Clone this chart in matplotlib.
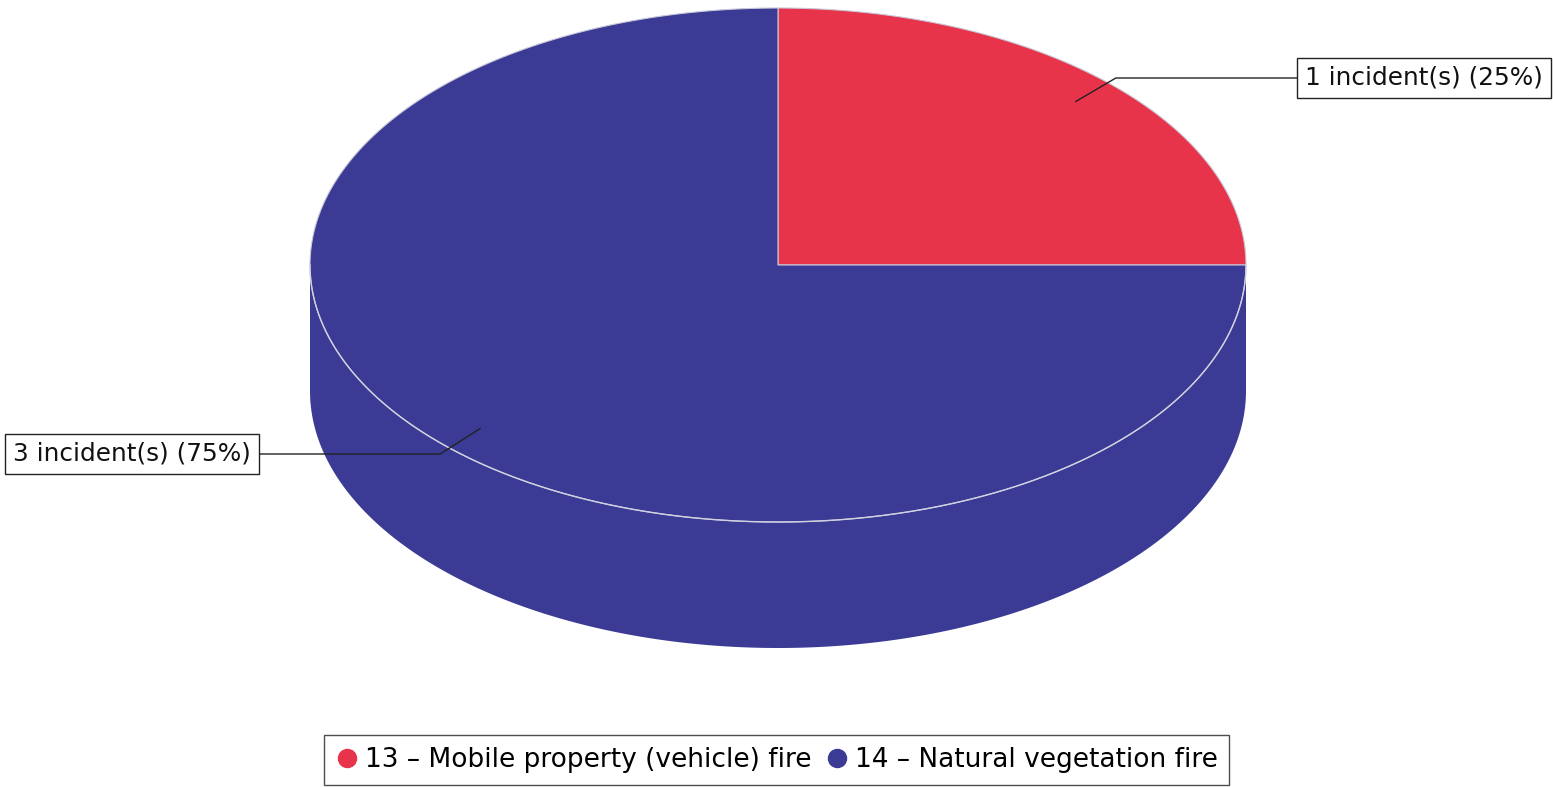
import numpy as np
import matplotlib
matplotlib.use("Agg")
import matplotlib.pyplot as plt
from matplotlib.patches import Polygon
from matplotlib.lines import Line2D

# data
categories = ["13 \u2013 Mobile property (vehicle) fire", "14 \u2013 Natural vegetation fire"]
counts = [1, 3]
colors = ["#E8344A", "#3B3B95"]

W, H = 1553, 787
fig = plt.figure(figsize=(W / 100, H / 100), dpi=100)
ax = fig.add_axes([0, 0, 1, 1])
ax.set_xlim(0, W)
ax.set_ylim(H, 0)
ax.axis("off")

# pie geometry (pixels)
cx, cy = 778, 265
rx, ry = 468, 257
depth = 126


def pt(theta, r=1.0, dy=0):
    t = np.radians(theta)
    return cx + r * rx * np.cos(t), cy - r * ry * np.sin(t) + dy


total = sum(counts)
fracs = [c / total for c in counts]

start = 90.0
bounds = []
for f in fracs:
    bounds.append((start - 360 * f, start))
    start -= 360 * f

# side wall (visible lower half)
for (a0, a1), col in zip(bounds, colors):
    for shift in (0, 360, -360):
        lo = max(a0 + shift, 180)
        hi = min(a1 + shift, 360)
        if hi > lo:
            th = np.linspace(lo, hi, 200)
            top = [pt(t) for t in th]
            bot = [pt(t, dy=depth) for t in th[::-1]]
            ax.add_patch(Polygon(top + bot, closed=True, fc=col, ec="none", zorder=1))

# top faces
for (a0, a1), col in zip(bounds, colors):
    th = np.linspace(a0, a1, 300)
    verts = [(cx, cy)] + [pt(t) for t in th]
    ax.add_patch(Polygon(verts, closed=True, fc=col, ec="#c8c8d8", lw=0.8, zorder=2))

# light rim between top face and side
th = np.linspace(180, 360, 300)
rim = np.array([pt(t) for t in th])
ax.plot(rim[:, 0], rim[:, 1], color="#d0d0e0", lw=1.0, zorder=3)

# labels with leader lines
label_pos = [(1298, 78, "left"), (258, 454, "right")]
for (a0, a1), c, f, (lx, ly, side) in zip(bounds, counts, fracs, label_pos):
    mid = (a0 + a1) / 2
    ax_, ay_ = pt(mid, r=0.9)
    ex = ax_ + (40 if side == "left" else -40)
    ax.plot([ax_, ex, lx], [ay_, ly, ly], color="#222222", lw=1.0, zorder=4)
    txt = "%d incident(s) (%d%%)" % (c, round(f * 100))
    tx = lx + 7 if side == "left" else lx - 7
    ax.text(tx, ly, txt, fontsize=17.8, ha=side, va="center", color="#111111", zorder=5,
            bbox=dict(boxstyle="square,pad=0.32", fc="white", ec="#222222", lw=1.0))

# legend
handles = [Line2D([], [], marker="o", ls="none", markersize=13, markerfacecolor=c,
                  markeredgecolor=c) for c in colors]
leg = fig.legend(handles, categories, loc="lower center", bbox_to_anchor=(0.5, 0.003),
                 ncol=2, fontsize=19, frameon=True, fancybox=False, handletextpad=0.2,
                 columnspacing=0.55, handlelength=0.9, borderpad=0.45, borderaxespad=0)
leg.get_frame().set_edgecolor("#222222")
leg.get_frame().set_linewidth(1.0)

fig.savefig("out.png", dpi=100, facecolor="white")
